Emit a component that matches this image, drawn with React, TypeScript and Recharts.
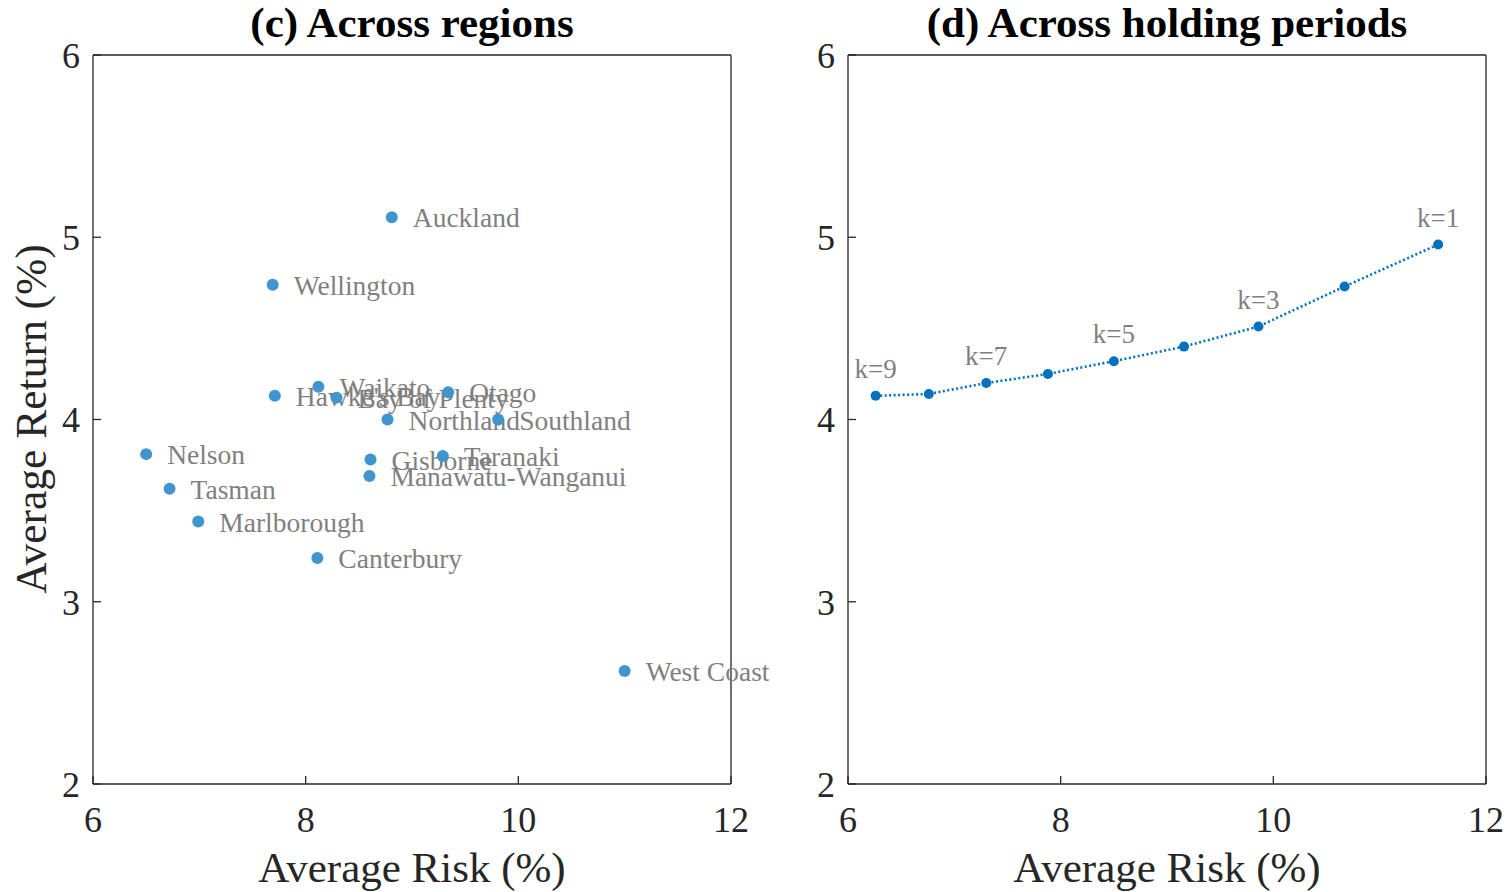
import React from "react";
import { ScatterChart, Scatter, XAxis, YAxis, Label } from "recharts";

const regionNames = [
  "Auckland", "Wellington", "Waikato", "Hawke's Bay", "Bay of Plenty", "Otago",
  "Northland", "Southland", "Nelson", "Tasman", "Marlborough", "Gisborne",
  "Taranaki", "Manawatu-Wanganui", "Canterbury", "West Coast",
];
const regionRisk = [8.81, 7.69, 8.12, 7.71, 8.29, 9.34, 8.77, 9.81, 6.5, 6.72, 6.99, 8.61, 9.29, 8.6, 8.11, 11.0];
const regionReturn = [5.11, 4.74, 4.18, 4.13, 4.12, 4.15, 4.0, 4.0, 3.81, 3.62, 3.44, 3.78, 3.8, 3.69, 3.24, 2.62];

const periodLabels = ["k=9", "", "k=7", "", "k=5", "", "k=3", "", "k=1"];
const periodRisk = [6.26, 6.76, 7.3, 7.88, 8.5, 9.16, 9.86, 10.67, 11.55];
const periodReturn = [4.13, 4.14, 4.2, 4.25, 4.32, 4.4, 4.51, 4.73, 4.96];

const xTicks = [6, 8, 10, 12];
const yTicks = [2, 3, 4, 5, 6];

const regionData = regionNames.map((name, i) => ({ name, x: regionRisk[i], y: regionReturn[i] }));
const periodData = periodLabels.map((label, i) => ({ label, x: periodRisk[i], y: periodReturn[i] }));

const FONT = "'Liberation Serif', 'Times New Roman', serif";
const AXIS = "#262626";
const LABEL_GRAY = "#7f7f7f";

const RegionDot = (props: any) => {
  const { cx, cy, payload } = props;
  return (
    <g>
      <circle cx={cx} cy={cy} r={6} fill="#4095CE" />
      <text x={cx + 21} y={cy + 10} fontSize={27.5} fill={LABEL_GRAY} fontFamily={FONT}>
        {payload.name}
      </text>
    </g>
  );
};

const PeriodDot = (props: any) => {
  const { cx, cy, payload } = props;
  return (
    <g>
      <circle cx={cx} cy={cy} r={5} fill="#0072BD" />
      {payload.label ? (
        <text x={cx} y={cy - 18} fontSize={27} fill={LABEL_GRAY} fontFamily={FONT} textAnchor="middle">
          {payload.label}
        </text>
      ) : null}
    </g>
  );
};

const tickStyle = { fontSize: 36, fill: AXIS, fontFamily: FONT };

function Panel({ title, data, shape, yTitle, line, width, marginLeft, marginRight }: any) {
  return (
    <ScatterChart
      width={width}
      height={892}
      margin={{ top: 54, right: marginRight, bottom: 48, left: marginLeft }}
    >
      <XAxis
        xAxisId="b"
        type="number"
        dataKey="x"
        domain={[6, 12]}
        ticks={xTicks}
        height={60}
        tickSize={-8}
        tickMargin={30}
        tick={tickStyle}
        axisLine={{ stroke: AXIS, strokeWidth: 1.3 }}
        tickLine={{ stroke: AXIS, strokeWidth: 1.3 }}
      >
        <Label
          content={(p: any) => {
            const vb = p.viewBox || {};
            return (
              <text
                x={vb.x + vb.width / 2}
                y={882}
                textAnchor="middle"
                fontSize={43}
                fill={AXIS}
                fontFamily={FONT}
              >
                Average Risk (%)
              </text>
            );
          }}
        />
      </XAxis>
      <XAxis
        xAxisId="t"
        orientation="top"
        type="number"
        dataKey="x"
        domain={[6, 12]}
        ticks={xTicks}
        height={1}
        tickSize={-8}
        tick={false}
        axisLine={{ stroke: AXIS, strokeWidth: 1.3 }}
        tickLine={{ stroke: AXIS, strokeWidth: 1.3 }}
      >
        <Label
          content={(p: any) => {
            const vb = p.viewBox || {};
            return (
              <text
                x={vb.x + vb.width / 2}
                y={37}
                textAnchor="middle"
                fontSize={43}
                fontWeight="bold"
                fill="#000"
                fontFamily={FONT}
              >
                {title}
              </text>
            );
          }}
        />
      </XAxis>
      <YAxis
        yAxisId="l"
        type="number"
        dataKey="y"
        domain={[2, 6]}
        ticks={yTicks}
        width={60}
        tickSize={-8}
        tickMargin={21}
        tick={tickStyle}
        axisLine={{ stroke: AXIS, strokeWidth: 1.3 }}
        tickLine={{ stroke: AXIS, strokeWidth: 1.3 }}
      >
        {yTitle ? (
          <Label
            content={() => {
              const cx = 46;
              const cy = 419;
              return (
                <text
                  x={cx}
                  y={cy}
                  transform={`rotate(-90, ${cx}, ${cy})`}
                  textAnchor="middle"
                  fontSize={43.5}
                  fill={AXIS}
                  fontFamily={FONT}
                >
                  {yTitle}
                </text>
              );
            }}
          />
        ) : null}
      </YAxis>
      <YAxis
        yAxisId="r"
        orientation="right"
        type="number"
        dataKey="y"
        domain={[2, 6]}
        ticks={yTicks}
        width={1}
        tickSize={-8}
        tick={false}
        axisLine={{ stroke: AXIS, strokeWidth: 1.3 }}
        tickLine={{ stroke: AXIS, strokeWidth: 1.3 }}
      />
      <Scatter
        xAxisId="b"
        yAxisId="l"
        data={data}
        fill="#0072BD"
        shape={shape}
        line={line}
        lineType="joint"
        isAnimationActive={false}
      />
    </ScatterChart>
  );
}

export default function App() {
  return (
    <div style={{ position: "absolute", left: 0, top: 0, width: 1507, height: 892, background: "#fff" }}>
      <div style={{ position: "absolute", left: 760, top: 0 }}>
        <Panel
          title="(d) Across holding periods"
          data={periodData}
          shape={PeriodDot}
          yTitle=""
          line={{ stroke: "#0072BD", strokeWidth: 2.6, strokeDasharray: "2 2.5" }}
          width={747}
          marginLeft={28}
          marginRight={20}
        />
      </div>
      <div style={{ position: "absolute", left: 0, top: 0 }}>
        <Panel
          title="(c) Across regions"
          data={regionData}
          shape={RegionDot}
          yTitle="Average Return (%)"
          line={false}
          width={800}
          marginLeft={33}
          marginRight={68}
        />
      </div>
    </div>
  );
}
